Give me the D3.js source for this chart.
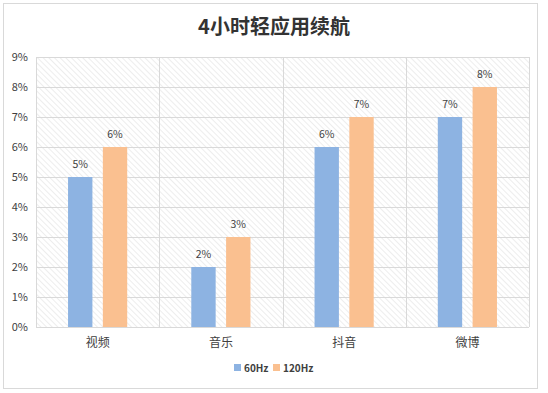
<!DOCTYPE html>
<html>
<head>
<meta charset="utf-8">
<script src="https://cdn.jsdelivr.net/npm/d3@7"></script>
<style>
  body { margin: 0; background: #fff; }
  text { font-family: "Noto Sans CJK SC", "DejaVu Sans", sans-serif; }
</style>
</head>
<body>
<svg id="chart" width="548" height="393"></svg>
<script>
var categories = ['视频', '音乐', '抖音', '微博'];
var seriesNames = ['60Hz', '120Hz'];
var values60 = [5, 2, 6, 7];
var values120 = [6, 3, 7, 8];
var yTicks = [0, 1, 2, 3, 4, 5, 6, 7, 8, 9];
var colors = ['#8db3e2', '#fac090'];

var svg = d3.select('#chart');
var margin = {left: 36, right: 19, top: 57, bottom: 66};
var w = 548 - margin.left - margin.right;
var h = 393 - margin.top - margin.bottom;

// outer frame
svg.append('rect').attr('x', 3.5).attr('y', 3.5).attr('width', 534).attr('height', 385)
  .attr('fill', '#fff').attr('stroke', '#d9d9d9');

// hatch pattern, lines running top-left to bottom-right
var pat = svg.append('defs').append('pattern').attr('id', 'hatch')
  .attr('patternUnits', 'userSpaceOnUse').attr('width', 4).attr('height', 4)
  .attr('patternTransform', 'rotate(-45)');
pat.append('line').attr('x1', 0).attr('y1', 0).attr('x2', 0).attr('y2', 4)
  .attr('stroke', '#dcdcdc').attr('stroke-width', 1);

var g = svg.append('g').attr('transform', 'translate(' + margin.left + ',' + margin.top + ')');

var x = d3.scaleBand().domain(categories).range([0, w]);
var x1 = d3.scaleBand().domain(seriesNames).range([x.bandwidth() * 0.26, x.bandwidth() * 0.74]).paddingInner(0.3);
var y = d3.scaleLinear().domain([0, 9]).range([h, 0]);

g.append('rect').attr('width', w).attr('height', h).attr('fill', 'url(#hatch)');

// grid
g.selectAll('.hgrid').data(yTicks).enter().append('line')
  .attr('x1', 0).attr('x2', w)
  .attr('y1', d => Math.round(y(d)) + 0.5).attr('y2', d => Math.round(y(d)) + 0.5)
  .attr('stroke', '#d9d9d9');
g.selectAll('.vgrid').data(d3.range(categories.length + 1)).enter().append('line')
  .attr('x1', d => Math.round(d * x.bandwidth()) + 0.5).attr('x2', d => Math.round(d * x.bandwidth()) + 0.5)
  .attr('y1', 0).attr('y2', h)
  .attr('stroke', '#d9d9d9');

// y axis labels
var yAxis = d3.axisLeft(y).tickValues(yTicks).tickFormat(d => d + '%').tickSize(0).tickPadding(8);
g.append('g').call(yAxis).call(a => a.select('.domain').remove())
  .selectAll('text').attr('font-size', 11).attr('fill', '#404040');

// x axis labels
var xAxis = d3.axisBottom(x).tickSize(0).tickPadding(11);
g.append('g').attr('transform', 'translate(0,' + h + ')').call(xAxis)
  .call(a => a.select('.domain').remove())
  .selectAll('text').attr('font-size', 12).attr('fill', '#404040');

var rows = categories.map((c, i) => ({cat: c, vals: [values60[i], values120[i]]}));

var groups = g.selectAll('.grp').data(rows).enter().append('g')
  .attr('transform', d => 'translate(' + x(d.cat) + ',0)');

groups.selectAll('rect').data(d => d.vals.map((v, j) => ({s: seriesNames[j], v: v, j: j}))).enter()
  .append('rect')
  .attr('x', d => x1(d.s)).attr('width', x1.bandwidth())
  .attr('y', d => y(d.v)).attr('height', d => h - y(d.v))
  .attr('fill', d => colors[d.j]);

groups.selectAll('.lbl').data(d => d.vals.map((v, j) => ({s: seriesNames[j], v: v}))).enter()
  .append('text')
  .attr('x', d => x1(d.s) + x1.bandwidth() / 2).attr('y', d => y(d.v) - 9)
  .attr('text-anchor', 'middle').attr('font-size', 10.5)
  .attr('fill', '#404040').text(d => d.v + '%');

// title
svg.append('text').attr('x', 274).attr('y', 34).attr('text-anchor', 'middle')
  .attr('font-size', 20).attr('font-weight', 'bold').attr('fill', '#333')
  .text('4小时轻应用续航');

// legend
var leg = svg.append('g').attr('transform', 'translate(234,364)');
var legX = [0, 39];
seriesNames.forEach((s, i) => {
  leg.append('rect').attr('x', legX[i]).attr('y', 0).attr('width', 7).attr('height', 7).attr('fill', colors[i]);
  leg.append('text').attr('x', legX[i] + 10).attr('y', 7.5).attr('font-size', 10).attr('font-weight', 'bold')
    .attr('fill', '#404040').text(s);
});
</script>
</body>
</html>
